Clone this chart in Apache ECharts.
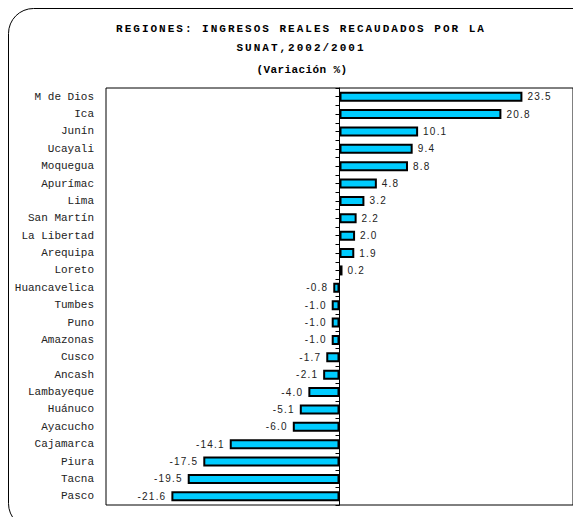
<!DOCTYPE html>
<html><head><meta charset="utf-8">
<script src="https://cdn.jsdelivr.net/npm/echarts@6/dist/echarts.min.js"></script>
<style>html,body{margin:0;padding:0;background:#fff}#chart{width:573px;height:517px}</style>
</head><body><div id="chart"></div>
<script>
const titleLine1 = 'REGIONES: INGRESOS REALES RECAUDADOS POR LA';
const titleLine2 = 'SUNAT,2002/2001';
const titleLine3 = '(Variación %)';
const regions = ['M de Dios','Ica','Junín','Ucayali','Moquegua','Apurímac','Lima','San Martín','La Libertad','Arequipa','Loreto','Huancavelica','Tumbes','Puno','Amazonas','Cusco','Ancash','Lambayeque','Huánuco','Ayacucho','Cajamarca','Piura','Tacna','Pasco'];
const variation = [23.5, 20.8, 10.1, 9.4, 8.8, 4.8, 3.2, 2.2, 2.0, 1.9, 0.2, -0.8, -1.0, -1.0, -1.0, -1.7, -2.1, -4.0, -5.1, -6.0, -14.1, -17.5, -19.5, -21.6];

const chart = echarts.init(document.getElementById('chart'), null, {renderer: 'svg'});
const tickAxis = (align, showLine) => ({
  type: 'category', data: regions, inverse: true, position: 'right',
  axisLine: {show: showLine, onZero: true, onZeroAxisIndex: 0, lineStyle: {color: '#000', width: 1}},
  axisTick: {show: true, inside: true, length: 4, interval: 0, alignWithLabel: align, lineStyle: {color: '#000', width: 1}},
  axisLabel: {show: false}, splitLine: {show: false}
});
chart.setOption({
  animation: false,
  backgroundColor: '#fff',
  graphic: [
    {type: 'rect', silent: true, z: 0, shape: {x: 8.5, y: 8.5, width: 600, height: 520, r: 25}, style: {fill: 'none', stroke: '#000', lineWidth: 1}},
    {type: 'text', silent: true, x: 301, y: 29, style: {text: titleLine1, font: 'bold 11px "Liberation Mono"', fill: '#000', align: 'center', verticalAlign: 'middle'}},
    {type: 'text', silent: true, x: 301, y: 48, style: {text: titleLine2, font: 'bold 11px "Liberation Mono"', fill: '#000', align: 'center', verticalAlign: 'middle'}},
    {type: 'text', silent: true, x: 302, y: 70, style: {text: titleLine3, font: 'bold 11px "Liberation Mono"', fill: '#000', align: 'center', verticalAlign: 'middle'}}
  ],
  grid: {left: 106, top: 88, width: 471, height: 417, show: true, borderColor: '#000', borderWidth: 1, backgroundColor: 'transparent', containLabel: false},
  xAxis: {type: 'value', min: -30, max: 30, show: false, splitLine: {show: false}},
  yAxis: [
    {type: 'category', data: regions, inverse: true, position: 'left',
     axisLine: {show: false, onZero: false}, axisTick: {show: false}, splitLine: {show: false},
     axisLabel: {margin: 12, color: '#222', fontFamily: 'Liberation Mono', fontSize: 11}},
    tickAxis(false, true),
    tickAxis(true, false)
  ],
  series: [{
    type: 'bar', yAxisIndex: 0, barWidth: 10, barMinHeight: 3,
    itemStyle: {color: '#00CCFF', borderColor: '#000', borderWidth: 2},
    label: {show: true, distance: 5, color: '#222', fontFamily: 'Liberation Sans', fontSize: 10,
            formatter: p => p.value.toFixed(1)},
    data: variation.map(v => ({value: v, label: {position: v >= 0 ? 'right' : 'left'}}))
  }]
});
function applySpacing() {
  document.querySelectorAll('#chart text').forEach(t => {
    const s = t.textContent;
    if (s === titleLine1 || s === titleLine2) t.setAttribute('letter-spacing', '2');
    else if (s === titleLine3) t.setAttribute('letter-spacing', '0.4');
    else if (/^-?\d+\.\d$/.test(s)) t.setAttribute('letter-spacing', '1.2');
  });
}
applySpacing();
chart.on('finished', applySpacing);
</script></body></html>
